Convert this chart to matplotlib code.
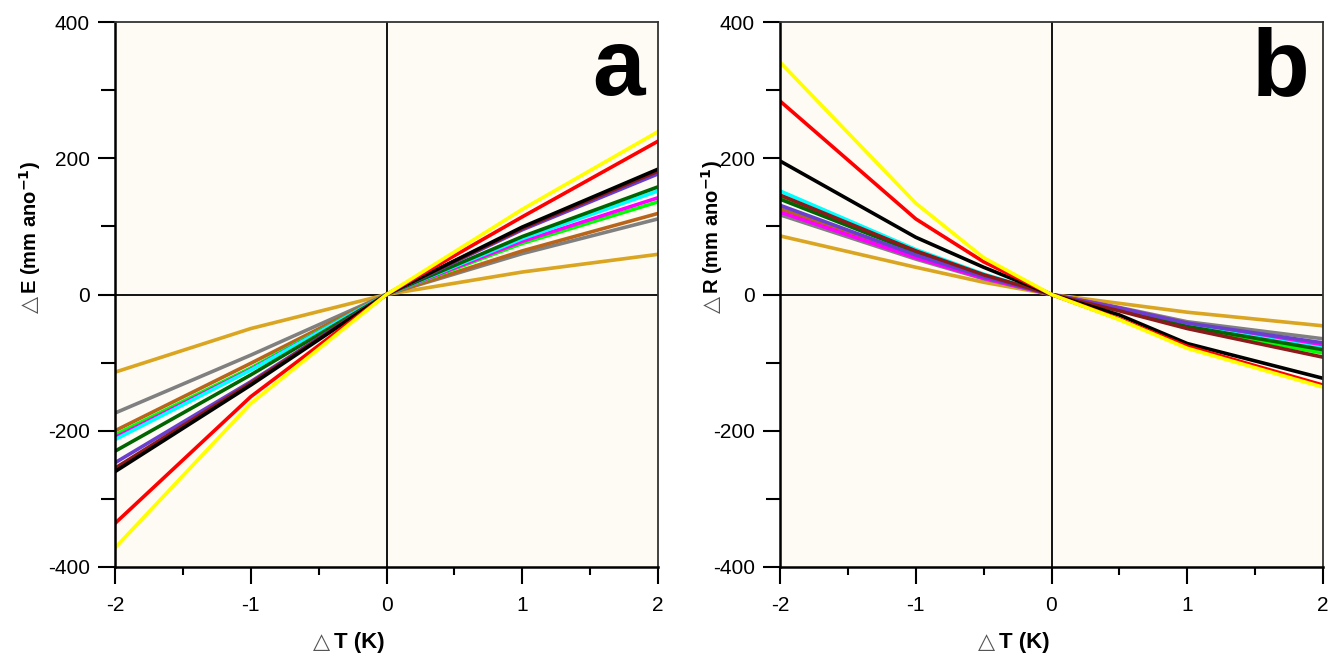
import matplotlib
matplotlib.use("Agg")
import matplotlib.pyplot as plt
from matplotlib.ticker import MultipleLocator

plt.rcParams['font.family'] = ['Liberation Sans', 'DejaVu Sans']
plt.rcParams['axes.unicode_minus'] = False

x_a = [-2, -1, 0, 1, 2]
x_b = [-2, -1, -0.5, 0, 0.5, 1, 2]

series_names = ['gold', 'gray', 'brown', 'lime', 'magenta', 'cyan',
                'darkgreen', 'purple', 'maroon', 'black', 'red', 'yellow']
series_colors = ['#DAA520', '#808080', '#B8651B', '#00FF00', '#FF00FF', '#00FFFF',
                 '#006400', '#6A3FD0', '#8B1A1A', '#000000', '#FF0000', '#FFFF00']

dE = {
    'yellow':    [-372, -160, 0, 125, 239],
    'red':       [-336, -150, 0, 114, 225],
    'black':     [-260, -133, 0, 99, 184],
    'maroon':    [-255, -130, 0, 97, 181],
    'purple':    [-247, -128, 0, 95, 177],
    'darkgreen': [-230, -118, 0, 85, 158],
    'cyan':      [-213, -111, 0, 82, 152],
    'magenta':   [-210, -110, 0, 78, 142],
    'lime':      [-206, -108, 0, 75, 136],
    'brown':     [-200, -101, 0, 64, 119],
    'gray':      [-174, -89, 0, 60, 111],
    'gold':      [-114, -50, 0, 33, 59],
}

dR = {
    'yellow':    [341, 134, 54, 0, -37, -79, -136],
    'red':       [284, 111, 48, 0, -36, -76, -133],
    'black':     [196, 84, 40, 0, -30, -72, -123],
    'cyan':      [152, 66, 30, 0, -22, -46, -79],
    'maroon':    [146, 64, 29, 0, -24, -50, -92],
    'lime':      [145, 63, 28, 0, -22, -48, -86],
    'darkgreen': [140, 62, 28, 0, -22, -47, -81],
    'purple':    [131, 58, 26, 0, -20, -42, -71],
    'brown':     [126, 56, 25, 0, -20, -42, -74],
    'magenta':   [121, 54, 24, 0, -20, -43, -76],
    'gray':      [117, 52, 23, 0, -19, -40, -65],
    'gold':      [86, 40, 18, 0, -13, -26, -46],
}

xticks = [-2, -1, 0, 1, 2]
yticks = [-400, -200, 0, 200, 400]

W, H = 1344, 664
fig = plt.figure(figsize=(W / 100, H / 100), dpi=100)
ax_a = fig.add_axes([115 / W, 1 - 567 / H, 543 / W, 545 / H])
ax_b = fig.add_axes([780 / W, 1 - 567 / H, 543 / W, 545 / H])


def style(ax, data, xs, letter):
    ax.set_facecolor('#FDFBF4')
    ax.axhline(0, color='black', lw=1.3, zorder=1)
    ax.axvline(0, color='black', lw=1.3, zorder=1)
    for name, col in zip(series_names, series_colors):
        ax.plot(xs, data[name], color=col, lw=2.6, zorder=2)
    ax.set_xlim(-2, 2)
    ax.set_ylim(-400, 400)
    ax.set_xticks(xticks)
    ax.set_yticks(yticks)
    ax.xaxis.set_minor_locator(MultipleLocator(0.5))
    ax.yaxis.set_minor_locator(MultipleLocator(100))
    ax.tick_params(axis='x', which='major', direction='out', length=12, width=1.5, pad=9, labelsize=15)
    ax.tick_params(axis='x', which='minor', direction='out', length=6, width=1.5)
    ax.tick_params(axis='y', which='major', direction='out', length=12, width=1.5, pad=6, labelsize=15)
    ax.tick_params(axis='y', which='minor', direction='out', length=10, width=1.5)
    ax.tick_params(top=False, right=False, which='both')
    for s in ['left', 'bottom']:
        ax.spines[s].set_linewidth(1.8)
    for s in ['top', 'right']:
        ax.spines[s].set_linewidth(1.3)
        ax.spines[s].set_color('#333333')
    ax.text(0.975, 0.866, letter, transform=ax.transAxes, ha='right', va='baseline',
            fontsize=68, fontweight='bold')


def px(x, y):
    return x / W, 1 - y / H


def ylab(xc, ybot, letter):
    # thin triangle, then bold text, rotated
    fig.text(*px(xc, ybot), '△', rotation=90, ha='center', va='bottom',
             fontsize=16, family='DejaVu Sans', color='#555555')
    fig.text(*px(xc, ybot - 19), letter + ' (mm ano$^{\\mathbf{-1}}$)', rotation=90,
             ha='center', va='bottom', fontsize=14.5, fontweight='bold')


def xlab(xl, ybase):
    fig.text(*px(xl, ybase), '△', ha='left', va='baseline',
             fontsize=16, family='DejaVu Sans', color='#555555')
    fig.text(*px(xl + 21, ybase), 'T (K)', ha='left', va='baseline',
             fontsize=16, fontweight='bold')


style(ax_a, dE, x_a, 'a')
style(ax_b, dR, x_b, 'b')

ylab(30, 313, 'E')
ylab(712, 313, 'R')
xlab(313, 648)
xlab(978, 648)

fig.savefig('out.png', dpi=100)
